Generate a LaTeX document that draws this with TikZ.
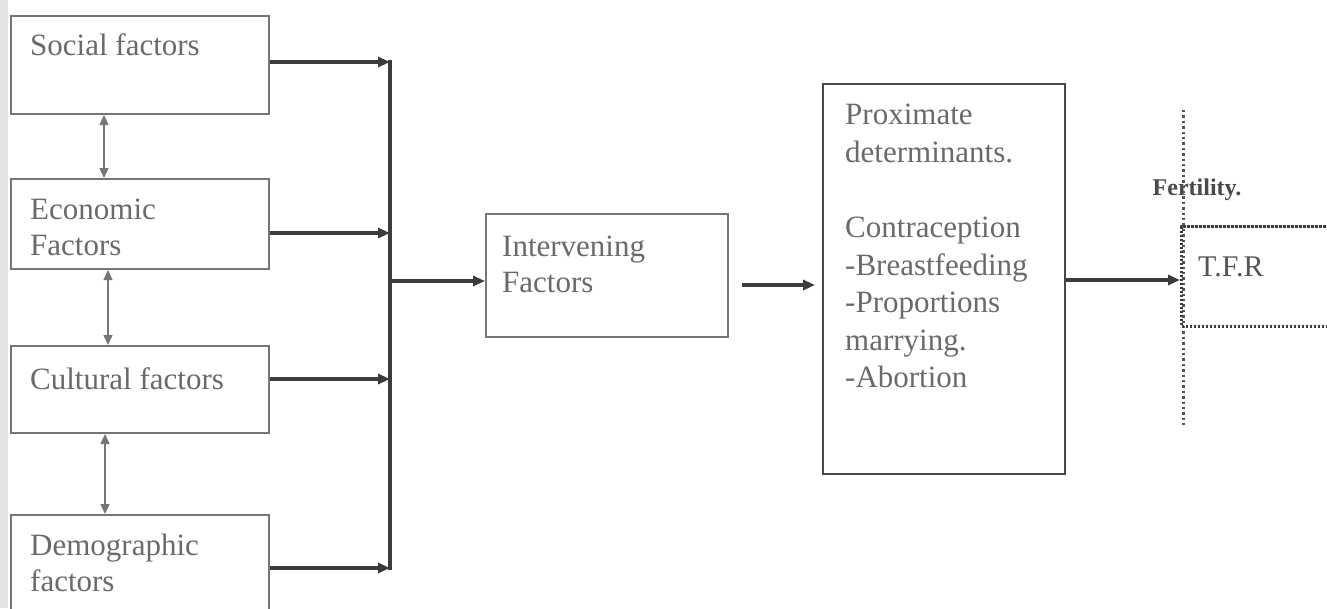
\documentclass[tikz,border=0pt]{standalone}
\usepackage{fontspec}
\setmainfont{Liberation Serif}
\usetikzlibrary{arrows.meta}
\definecolor{boxgray}{HTML}{767676}
\definecolor{darkbox}{HTML}{484848}
\definecolor{txtgray}{HTML}{6A6A6A}
\definecolor{arrgray}{HTML}{3C3C3C}
\definecolor{stripgray}{HTML}{E4E4E4}
\tikzset{
  box/.style={draw=boxgray, line width=2pt, inner sep=0pt, anchor=north west},
  txt/.style={text=txtgray, font=\fontsize{31}{36}\selectfont, align=left, anchor=west, inner sep=0pt},
  arr/.style={draw=arrgray, line width=3.2pt, -{Triangle[length=12pt,width=10pt]}},
  bus/.style={draw=arrgray, line width=3.2pt},
  darr/.style={draw=boxgray, line width=1.4pt, {Triangle[length=10pt,width=9pt]}-{Triangle[length=10pt,width=9pt]}},
}
\begin{document}
\begin{tikzpicture}[x=1pt,y=-1pt]
\useasboundingbox (0,0) rectangle (1327,608);
\clip (0,0) rectangle (1327,608);
\fill[white] (0,0) rectangle (1327,608);
\fill[stripgray] (0,0) rectangle (8,608);
% left boxes
\node[box, minimum width=258pt, minimum height=98pt] (soc) at (10,15) {};
\node[box, minimum width=258pt, minimum height=90pt] (eco) at (10,178) {};
\node[box, minimum width=258pt, minimum height=87pt] (cul) at (10,345) {};
\node[box, minimum width=258pt, minimum height=110pt] (dem) at (10,514) {};
\node[txt] (soct) at (30,45) {Social factors};
\node[txt] (ecot) at (30,227) {Economic\\Factors};
\node[txt] (cult) at (30,379) {Cultural factors};
\node[txt] (demt) at (30,563) {Demographic\\factors};
% double arrows between left boxes
\draw[darr] ([xshift=-36pt]soc.south) -- ([xshift=-36pt]eco.north);
\draw[darr] ([xshift=-32pt]eco.south) -- ([xshift=-32pt]cul.north);
\draw[darr] ([xshift=-35pt]cul.south) -- ([xshift=-35pt]dem.north);
% bus
\coordinate (b1) at (390,62);
\coordinate (b2) at (390,233);
\coordinate (b3) at (390,379);
\coordinate (b4) at (390,568);
\coordinate (bm) at (390,281);
\draw[arr] (soc.east |- b1) -- (b1);
\draw[arr] (eco.east |- b2) -- (b2);
\draw[arr] (cul.east |- b3) -- (b3);
\draw[arr] (dem.east |- b4) -- (b4);
\draw[bus] ([yshift=1.6pt]b1) -- ([yshift=-1.6pt]b4);
% intervening
\node[box, minimum width=242pt, minimum height=123pt] (inter) at (485,213) {};
\node[txt] (intert) at (502,264) {Intervening\\Factors};
\draw[arr] (bm) -- (inter.west |- bm);
% proximate
\node[box, draw=darkbox, line width=2.4pt, minimum width=242pt, minimum height=390pt] (prox) at (822,83) {};
\node[txt, anchor=north west, font=\fontsize{31}{37.6}\selectfont] (proxt) at (845,104) {Proximate\\determinants.\\[37.6pt]Contraception\\-Breastfeeding\\-Proportions\\marrying.\\-Abortion};
\coordinate (a1) at (742,285);
\draw[arr, shorten >=7pt] (a1) -- (prox.west |- a1);
% fertility
\coordinate (d1) at (1183,110);
\coordinate (d2) at (1183,425);
\draw[draw=txtgray!80!black, line width=3pt, dash pattern=on 2.4pt off 3pt] (d1) -- (d2);
\node[text=txtgray!70!black, font=\fontsize{24}{27}\bfseries, inner sep=0pt] (fert) at (1197,190) {Fertility.};
\node[box, draw=arrgray, line width=3.4pt, dash pattern=on 2.4pt off 1.6pt, minimum width=148pt, minimum height=100pt] (tfr) at (1180,225) {};
\node[txt, text=txtgray!80!black, font=\fontsize{30}{34}\selectfont] (tfrt) at (1198,267) {T.F.R};
\draw[arr] (prox.east |- 0,280) -- (tfr.west |- 0,280);
\end{tikzpicture}
\end{document}
